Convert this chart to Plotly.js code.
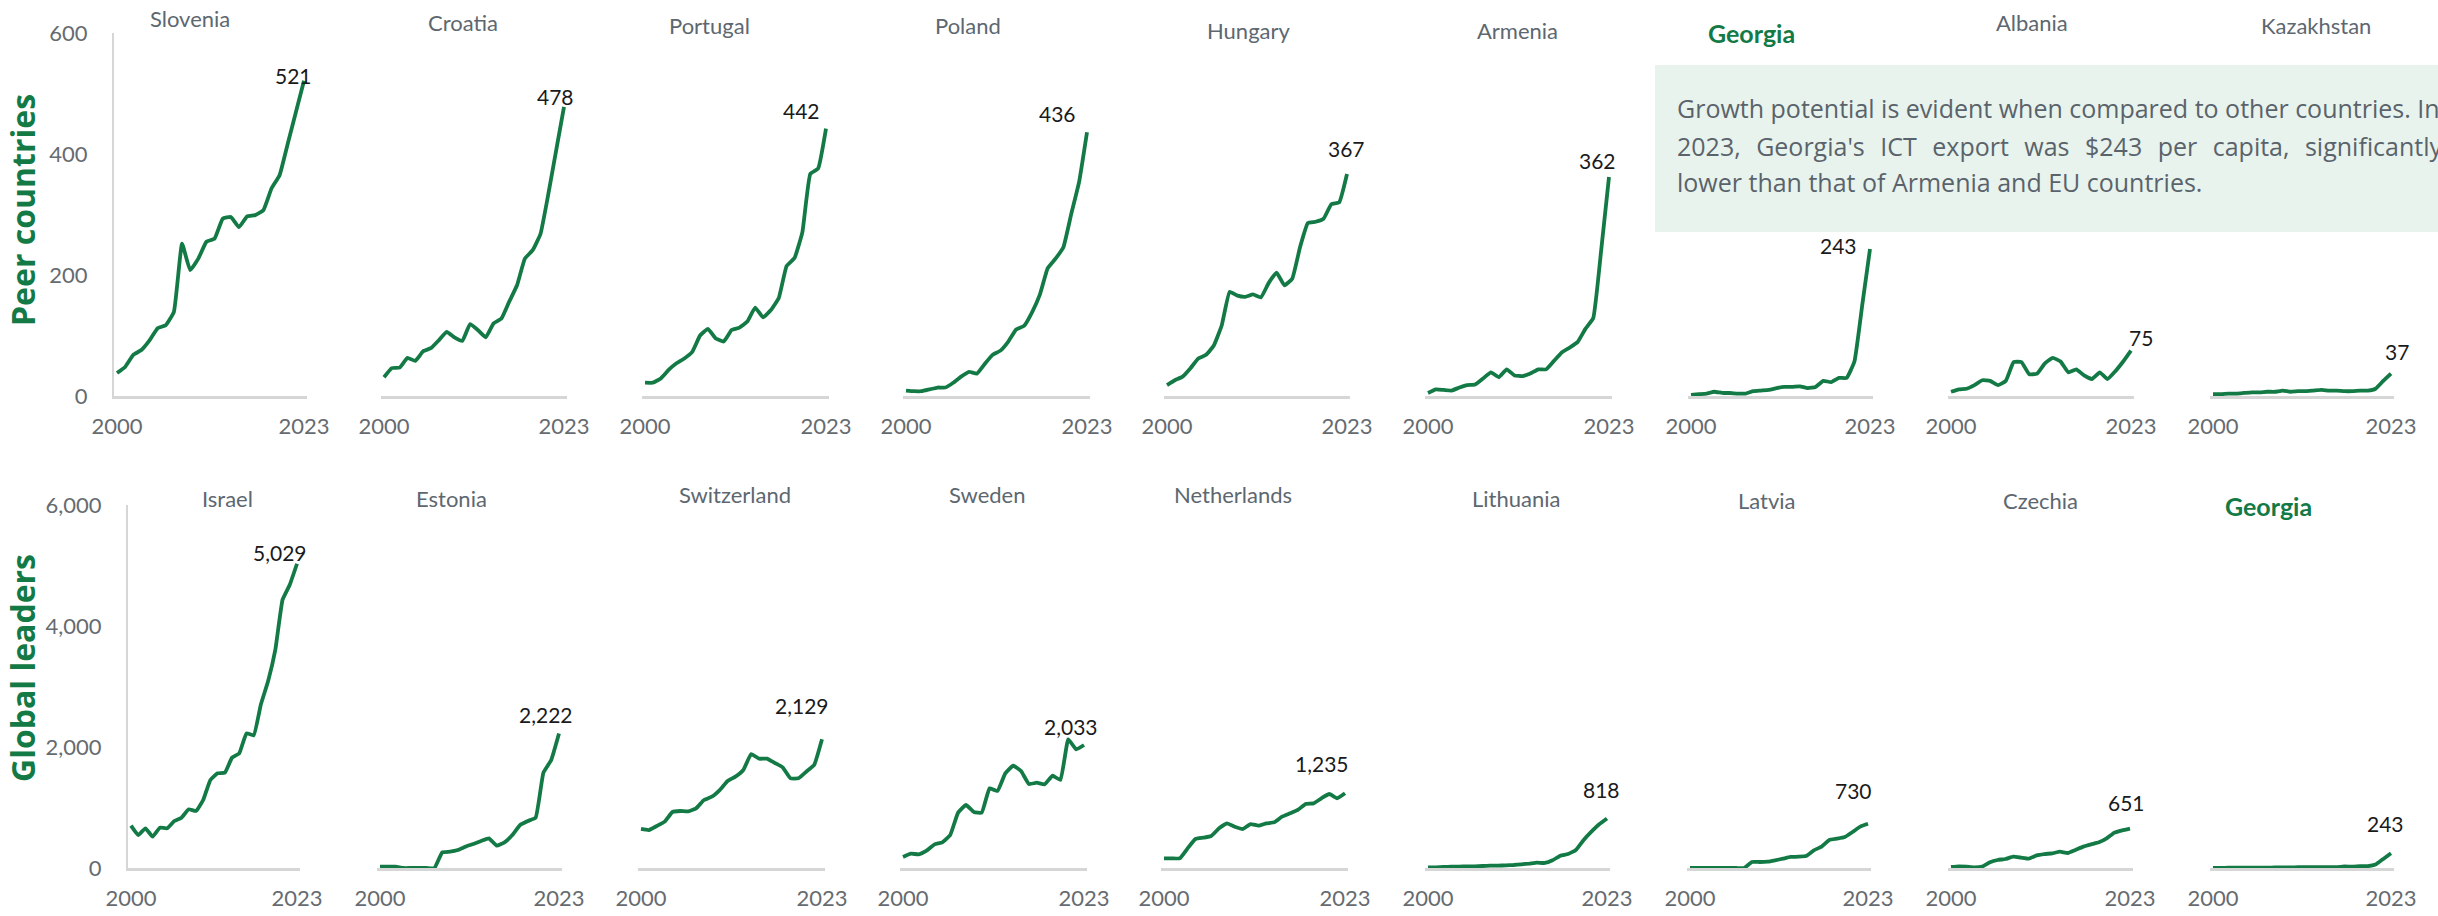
<!DOCTYPE html>
<html>
<head>
<meta charset="utf-8">
<script src="https://cdn.plot.ly/plotly-3.0.1.min.js"></script>
<style>html,body{margin:0;padding:0;background:#fff;}#chart{width:2438px;height:916px;}</style>
</head>
<body>
<div id="chart"></div>
<script>
// ---------------- DATA ----------------
const years = [2000,2001,2002,2003,2004,2005,2006,2007,2008,2009,2010,2011,2012,2013,2014,2015,2016,2017,2018,2019,2020,2021,2022,2023];

const peerCountries = ["Slovenia","Croatia","Portugal","Poland","Hungary","Armenia","Georgia","Albania","Kazakhstan"];
const leaderCountries = ["Israel","Estonia","Switzerland","Sweden","Netherlands","Lithuania","Latvia","Czechia","Georgia"];

const slovenia    = [38,48,68,76,92,112,117,139,252,208,227,255,260,293,296,279,297,299,307,343,365,417,469,521];
const croatia     = [31,46,47,63,58,74,79,92,106,97,91,119,109,97,120,128,156,183,227,241,268,334,406,478];
const portugal    = [22,22,29,43,54,62,73,100,111,95,90,109,113,123,146,130,142,162,215,228,271,367,376,442];
const poland      = [9,8,8,11,14,14,22,32,40,37,53,68,75,90,110,116,138,167,211,227,246,301,354,436];
const hungary     = [18,26,32,46,62,68,84,117,172,166,164,168,163,187,204,183,194,246,286,288,293,317,320,367];
const armenia     = [5,11,10,9,14,18,19,29,39,31,44,34,33,37,44,44,58,72,80,89,111,129,240,362];
const georgia     = [2,3,4,7,5,5,4,4,8,9,10,13,15,15,16,13,15,25,23,30,30,57,150,243];
const albania     = [7,11,12,18,26,25,18,25,56,56,36,37,54,63,57,39,44,34,28,39,28,41,57,75];
const kazakhstan  = [3,3,4,4,5,6,6,7,7,9,7,8,8,9,10,9,9,8,8,9,9,12,25,37];

const israel      = [700,545,655,518,667,656,777,832,970,942,1124,1455,1565,1576,1824,1895,2226,2193,2705,3091,3609,4435,4683,5029];
const estonia     = [22,22,22,0,0,0,0,0,259,270,298,353,397,446,490,369,424,545,711,777,832,1576,1785,2222];
const switzerland = [645,628,694,766,926,942,937,986,1124,1179,1289,1438,1510,1620,1884,1807,1807,1736,1664,1482,1482,1592,1702,2129];
const sweden      = [182,237,226,287,391,424,545,915,1041,926,915,1317,1273,1565,1691,1603,1388,1410,1383,1526,1455,2127,1961,2033];
const netherlands = [160,160,160,325,479,501,529,656,738,683,645,727,700,738,755,848,903,959,1058,1069,1152,1223,1152,1235];
const lithuania   = [11,11,17,22,22,28,28,33,39,39,44,50,61,72,88,83,127,204,231,298,463,600,722,818];
const latvia      = [0,0,0,0,0,0,0,0,99,99,105,127,154,182,187,198,292,353,463,485,512,595,683,730];
const czechia     = [17,28,22,11,22,94,132,149,187,171,154,209,231,242,270,248,298,353,391,424,490,584,623,651];

const peerSeries   = [slovenia,croatia,portugal,poland,hungary,armenia,georgia,albania,kazakhstan];
const leaderSeries = [israel,estonia,switzerland,sweden,netherlands,lithuania,latvia,czechia,georgia];

const rowTitles = ["Peer countries","Global leaders"];
const peerTicks = [0,200,400,600];
const leaderTicks = [0,2000,4000,6000];
const noteLines = [
  "Growth potential is evident when compared to other countries. In",
  "2023, Georgia's ICT export was $243 per capita, significantly",
  "lower than that of Armenia and EU countries."
];

// ---------------- LAYOUT CONFIG (pixels) ----------------
const W = 2438, H = 916;
const GREEN = "#137a46", GRAY_TXT = "#5d6770", AXIS_GRAY = "#d6d6d6";
const FONT = "Lato, 'Open Sans', sans-serif";

const rows = [
  { names: peerCountries, series: peerSeries, ticks: peerTicks, yTop: 33, yBot: 396,
    xs: [[114,307],[381,567],[642,829],[903,1090],[1164,1350],[1425,1612],[1688,1873],[1948,2134],[2210,2394]],
    titleX: [190,463,709,968,1249,1517,1751,2032,2316],
    titleY: [19,23,25,25,31,30,33,23,25],
    lab: [[-11,-5],[-9,-10],[-25,-18],[-30,-19],[-1,-25],[-12,-16],[-32,-3],[10,-13],[6,-22]],
    rowTitleY: 210 },
  { names: leaderCountries, series: leaderSeries, ticks: leaderTicks, yTop: 505, yBot: 868,
    xs: [[128,300],[377,562],[638,825],[900,1087],[1161,1348],[1425,1610],[1687,1871],[1948,2133],[2210,2394]],
    titleX: [227,451,735,987,1233,1516,1767,2040,2268],
    titleY: [499,499,494,495,495,498,500,500,506],
    lab: [[-17,-11],[-13,-19],[-20,-34],[-13,-19],[-23,-30],[-6,-29],[-15,-33],[-4,-26],[-6,-30]],
    rowTitleY: 668 }
];

const px = x => x / W;
const py = y => 1 - y / H;

const traces = [];
const layout = {
  width: W, height: H, autosize: false,
  margin: {l:0, r:0, t:0, b:0, pad:0},
  paper_bgcolor: "#fff", plot_bgcolor: "rgba(0,0,0,0)",
  showlegend: false,
  font: {family: FONT, color: GRAY_TXT},
  annotations: [], shapes: []
};

let k = 0;
rows.forEach((row, r) => {
  const yMax = row.ticks[row.ticks.length - 1];
  row.names.forEach((name, i) => {
    k++;
    const xa = "xaxis" + (k === 1 ? "" : k), ya = "yaxis" + (k === 1 ? "" : k);
    const xr = "x" + (k === 1 ? "" : k), yr = "y" + (k === 1 ? "" : k);
    const vals = row.series[i];
    const isGeorgia = name === "Georgia";
    traces.push({
      type: "scatter", mode: "lines", x: years, y: vals, xaxis: xr, yaxis: yr,
      line: {color: GREEN, width: 3.8, shape: "spline", smoothing: 0.35},
      cliponaxis: false, hoverinfo: "skip"
    });
    const [x0, x1] = row.xs[i];
    const wpx = x1 - x0;
    const padY = 23 * 3 / (wpx - 6);
    layout[xa] = {
      domain: [px(x0), px(x1)], anchor: yr,
      range: [years[0] - padY, years[years.length - 1] + padY],
      showgrid: false, zeroline: false,
      showline: true, linecolor: AXIS_GRAY, linewidth: 2.5,
      tickvals: [years[0], years[years.length - 1]],
      ticktext: [String(years[0]), String(years[years.length - 1])],
      ticks: "", ticklabelstandoff: 9,
      tickfont: {family: FONT, size: 22, color: "#666b70"},
      fixedrange: true
    };
    layout[ya] = {
      domain: [py(row.yBot), py(row.yTop)], anchor: xr,
      range: [0, yMax],
      showgrid: false, zeroline: false,
      showline: i === 0, linecolor: AXIS_GRAY, linewidth: 2,
      showticklabels: i === 0,
      tickvals: row.ticks, tickformat: ",d",
      ticks: "", ticklabelstandoff: 20,
      tickfont: {family: FONT, size: 22, color: "#666b70"},
      fixedrange: true
    };
    // panel title
    layout.annotations.push({
      xref: "paper", yref: "paper", x: px(row.titleX[i]), y: py(row.titleY[i]),
      xanchor: "center", yanchor: "middle", showarrow: false,
      text: isGeorgia ? "<b>" + name + "</b>" : name,
      font: {family: FONT, size: isGeorgia ? 25 : 22, color: isGeorgia ? GREEN : GRAY_TXT}
    });
    // end value label
    const last = vals[vals.length - 1];
    layout.annotations.push({
      xref: xr, yref: yr, x: years[years.length - 1], y: last,
      xanchor: "center", yanchor: "middle", showarrow: false,
      xshift: row.lab[i][0], yshift: -row.lab[i][1],
      text: last.toLocaleString("en-US"),
      font: {family: FONT, size: 21, color: "#1a1a1a"}
    });
  });
  // row title
  layout.annotations.push({
    xref: "paper", yref: "paper", x: px(22), y: py(row.rowTitleY),
    xanchor: "center", yanchor: "middle", showarrow: false, textangle: -90,
    text: "<b>" + rowTitles[r] + "</b>",
    font: {family: "'Open Sans', sans-serif", size: 32, color: GREEN}
  });
});

// note box
layout.shapes.push({
  type: "rect", xref: "paper", yref: "paper", layer: "below",
  x0: px(1655), x1: 1.02, y0: py(232), y1: py(65),
  fillcolor: "#e8f3ed", line: {width: 0}
});
const noteY = [108, 146, 182];
noteLines.forEach((t, j) => {
  const txt = j === 1 ? t.split(" ").join("\u00a0\u00a0\u200a") : t;
  layout.annotations.push({
    xref: "paper", yref: "paper", x: px(1675), y: py(noteY[j]),
    xanchor: "left", yanchor: "middle", showarrow: false, align: "left",
    text: txt, font: {family: "'Open Sans', sans-serif", size: 25, color: "#5a636b"}
  });
});

Plotly.newPlot("chart", traces, layout, {displayModeBar: false, staticPlot: true});
</script>
</body>
</html>
